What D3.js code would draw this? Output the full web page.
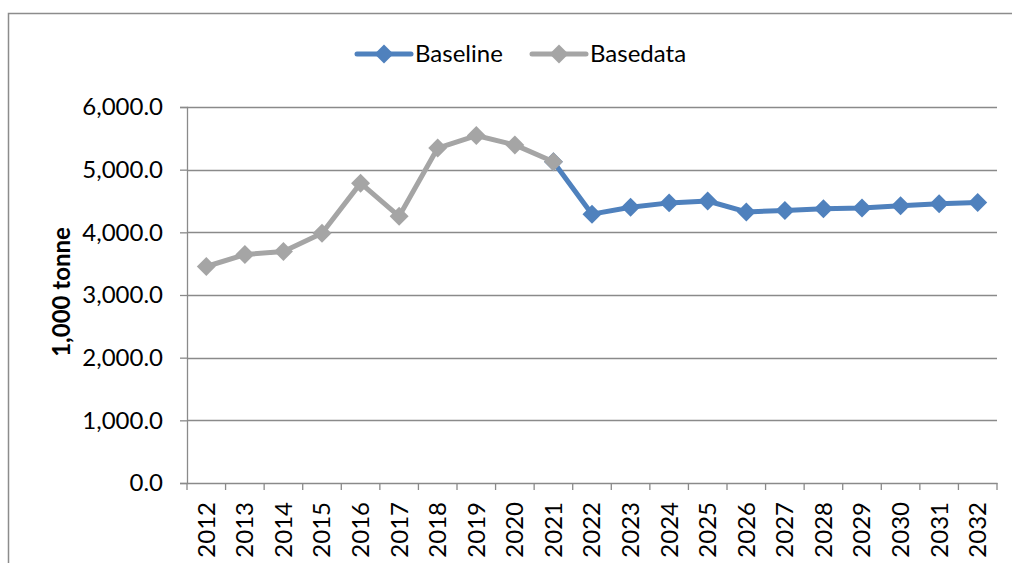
<!DOCTYPE html>
<html>
<head>
<meta charset="utf-8">
<script src="https://cdn.jsdelivr.net/npm/d3@7"></script>
<style>
  html, body { margin: 0; padding: 0; background: #fff; }
  svg { display: block; font-family: Lato, "Open Sans", sans-serif; }
</style>
</head>
<body>
<svg id="chart" width="1012" height="563"></svg>
<script>
// Years on the category axis
const years = ["2012","2013","2014","2015","2016","2017","2018","2019","2020","2021","2022",
               "2023","2024","2025","2026","2027","2028","2029","2030","2031","2032"];
// Projection (1,000 tonne), starts at the last historical year
const baseline = [null,null,null,null,null,null,null,null,null,5125,4290,
                  4400,4470,4500,4325,4350,4375,4390,4425,4455,4475];
// Historical data (1,000 tonne)
const basedata = [3455,3645,3695,3985,4785,4255,5345,5545,5395,5125,null,
                  null,null,null,null,null,null,null,null,null,null];
const yTicks = [0,1000,2000,3000,4000,5000,6000];
const seriesNames = ["Baseline","Basedata"];
const seriesColors = ["#4F81BD","#A5A5A5"];

const svg = d3.select("#chart");
const m = { left: 187, right: 997, top: 107, bottom: 483 };
const axisColor = "#8a8a8a";
const fontFam = "Lato, sans-serif";

// Outer frame
svg.append("rect").attr("x", 8.5).attr("y", 13.5).attr("width", 1100).attr("height", 700)
  .attr("fill", "none").attr("stroke", "#8c8c8c").attr("stroke-width", 1.5);

const x = d3.scaleBand().domain(years).range([m.left, m.right]).paddingInner(0).paddingOuter(0);
const y = d3.scaleLinear().domain([0, 6000]).range([m.bottom, m.top]);

// Horizontal gridlines
svg.append("g").selectAll("line").data(yTicks.filter(d => d > 0)).join("line")
  .attr("x1", m.left).attr("x2", m.right)
  .attr("y1", d => Math.round(y(d)) + 0.5).attr("y2", d => Math.round(y(d)) + 0.5)
  .attr("stroke", axisColor).attr("stroke-width", 1.3);

// Y axis
const yAxis = svg.append("g").attr("transform", `translate(${m.left},0)`)
  .call(d3.axisLeft(y).tickValues(yTicks).tickSize(7).tickPadding(17)
    .tickFormat(d => d3.format(",.1f")(d)));
yAxis.select(".domain").attr("stroke", axisColor).attr("stroke-width", 1.3);
yAxis.selectAll(".tick line").attr("stroke", axisColor).attr("stroke-width", 1.3);
yAxis.selectAll(".tick text").attr("font-size", 24).attr("fill", "#000")
  .attr("font-family", fontFam);

// X axis
const xAxis = svg.append("g").attr("transform", `translate(0,${m.bottom})`)
  .call(d3.axisBottom(x).tickSize(0).tickPadding(0));
xAxis.select(".domain").attr("stroke", axisColor).attr("stroke-width", 1.3);
// Tick marks at category boundaries
xAxis.append("g").selectAll("line").data(d3.range(years.length + 1)).join("line")
  .attr("x1", i => m.left + i * x.step()).attr("x2", i => m.left + i * x.step())
  .attr("y1", 0).attr("y2", 7).attr("stroke", axisColor).attr("stroke-width", 1.3);
xAxis.selectAll(".tick text")
  .attr("font-size", 24).attr("fill", "#000").attr("font-family", fontFam)
  .attr("text-anchor", "end").attr("dy", "0.35em")
  .attr("transform", "translate(0,19) rotate(-90)");

// Y axis title
svg.append("text").attr("transform", "translate(70,292) rotate(-90)")
  .attr("text-anchor", "middle").attr("font-size", 24).attr("font-weight", "bold")
  .attr("font-family", fontFam)
  .text("1,000 tonne");

const cx = d => x(d) + x.bandwidth() / 2;
const marker = d3.symbol().type(d3.symbolSquare).size(180);

function drawSeries(values, color) {
  const pts = years.map((yr, i) => ({ yr, v: values[i] })).filter(p => p.v != null);
  const line = d3.line().x(p => cx(p.yr)).y(p => y(p.v));
  svg.append("path").datum(pts).attr("d", line)
    .attr("fill", "none").attr("stroke", color).attr("stroke-width", 5)
    .attr("stroke-linejoin", "round").attr("stroke-linecap", "round");
  svg.append("g").selectAll("path").data(pts).join("path")
    .attr("transform", p => `translate(${cx(p.yr)},${y(p.v)}) rotate(45)`)
    .attr("d", marker)
    .attr("fill", color);
}
drawSeries(baseline, seriesColors[0]);
drawSeries(basedata, seriesColors[1]);

// Legend
const legendPos = [355, 530];
seriesNames.forEach((name, i) => {
  const g = svg.append("g").attr("transform", `translate(${legendPos[i]},54)`);
  g.append("line").attr("x1", 2).attr("x2", 56).attr("y1", 0).attr("y2", 0)
    .attr("stroke", seriesColors[i]).attr("stroke-width", 5).attr("stroke-linecap", "round");
  g.append("path").attr("transform", "translate(29,0) rotate(45)")
    .attr("d", marker).attr("fill", seriesColors[i]);
  g.append("text").attr("x", 60).attr("y", 0).attr("dy", "0.35em")
    .attr("font-size", 24).attr("font-family", fontFam).text(name);
});
</script>
</body>
</html>
